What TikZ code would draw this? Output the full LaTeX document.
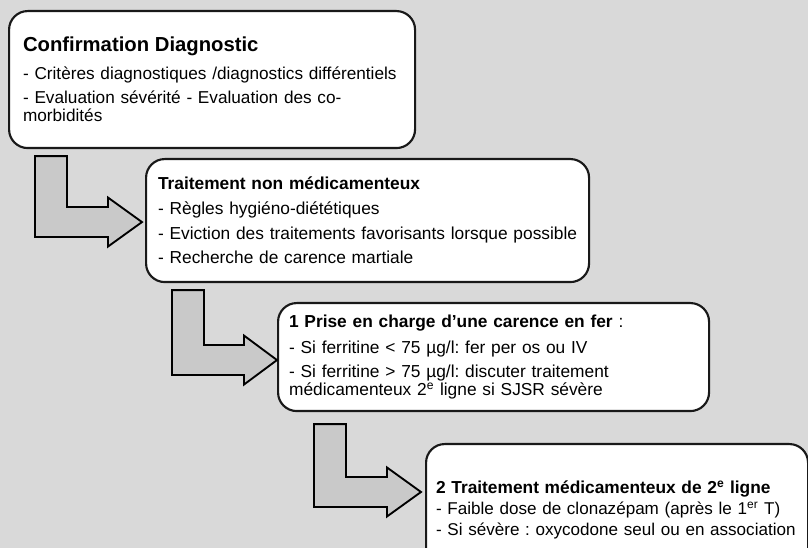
\documentclass[tikz,border=0pt]{standalone}
\usepackage{fontspec}
\setmainfont{Liberation Sans}
\usetikzlibrary{calc}
\definecolor{fond}{HTML}{D9D9D9}
\definecolor{gris}{HTML}{C9C9C9}
\tikzstyle{boite}=[rectangle,rounded corners=14pt,draw=black!90,line width=1.6pt,fill=white,anchor=north west,align=left,font=\fontsize{13pt}{13.5pt}\selectfont]
\tikzstyle{fleche}=[draw=black,line width=1.4pt,fill=gris,line join=miter]

\begin{document}
\frenchspacing
\begin{tikzpicture}[x=0.75pt,y=-0.75pt]

\fill[fond,use as bounding box] (0,0) rectangle (808,548);
\clip (0,0) rectangle (808,548);

\node[boite,inner xsep=10.5pt,text width=283.5pt,minimum height=102.75pt,font=\fontsize{12.9pt}{13.5pt}\selectfont] (C00) at (8,10)
  {{\bfseries\fontsize{15.2pt}{13.5pt}\selectfont Confirmation Diagnostic}\\[7.5pt]
   - Critères diagnostiques /diagnostics différentiels\\[4.5pt]
   - Evaluation sévérité - Evaluation des co-\\
   morbidités};
\node[boite,inner xsep=9pt,text width=314.25pt,minimum height=92.25pt] (T10) at (145,158)
  {\textbf{Traitement non médicamenteux}\\[5.25pt]
   - Règles hygiéno-diététiques\\[5.25pt]
   \mbox{- Eviction des traitements favorisants lorsque possible}\\[4.5pt]
   - Recherche de carence martiale};
\node[boite,inner xsep=8.25pt,text width=306.75pt,minimum height=81pt] (P20) at (277,302)
  {\textbf{1 Prise en charge d’une carence en fer} :\\[6pt]
   - Si ferritine < 75 µg/l: fer per os ou IV\\[4.5pt]
   - Si ferritine > 75 µg/l: discuter traitement\\
   médicamenteux 2\textsuperscript{e} ligne si SJSR sévère};
\node[boite,inner xsep=7.5pt,text width=271.5pt,minimum height=98.25pt,font=\fontsize{12.8pt}{13.5pt}\selectfont] (M30) at (425,443)
  {{\bfseries\fontsize{13pt}{13.5pt}\selectfont 2 Traitement médicamenteux de 2\textsuperscript{e} ligne}\\[2.25pt]
   - Faible dose de clonazépam (après le 1\textsuperscript{er} T)\\[2.25pt]
   \mbox{- Si sévère : oxycodone seul ou en association}};

\coordinate (auxC00) at ($(C00.south west)+(27,7)$);
\coordinate (auxT10) at ($(T10.west)+(-3,1.5)$);
\coordinate (auxT10b) at ($(T10.south west)+(27,7)$);
\coordinate (auxP20) at ($(P20.west)+(0,3)$);
\coordinate (auxP20b) at ($(P20.south west)+(37,12)$);
\coordinate (auxM30) at ($(M30.north west)+(-4,49)$);

\draw[fleche] (auxC00) -- ++(32,0) |- ($(auxT10)+(-34,-15)$) -- ++(0,-9.5) -- (auxT10)
  -- ++(-34,24.5) -- ++(0,-9.5) -| (auxC00) -- cycle;
\draw[fleche] (auxT10b) -- ++(32,0) |- ($(auxP20)+(-33,-15)$) -- ++(0,-9.5) -- (auxP20)
  -- ++(-33,24.5) -- ++(0,-9.5) -| (auxT10b) -- cycle;
\draw[fleche] (auxP20b) -- ++(32,0) |- ($(auxM30)+(-34,-15)$) -- ++(0,-9.5) -- (auxM30)
  -- ++(-34,24.5) -- ++(0,-9.5) -| (auxP20b) -- cycle;

\end{tikzpicture}
\end{document}
